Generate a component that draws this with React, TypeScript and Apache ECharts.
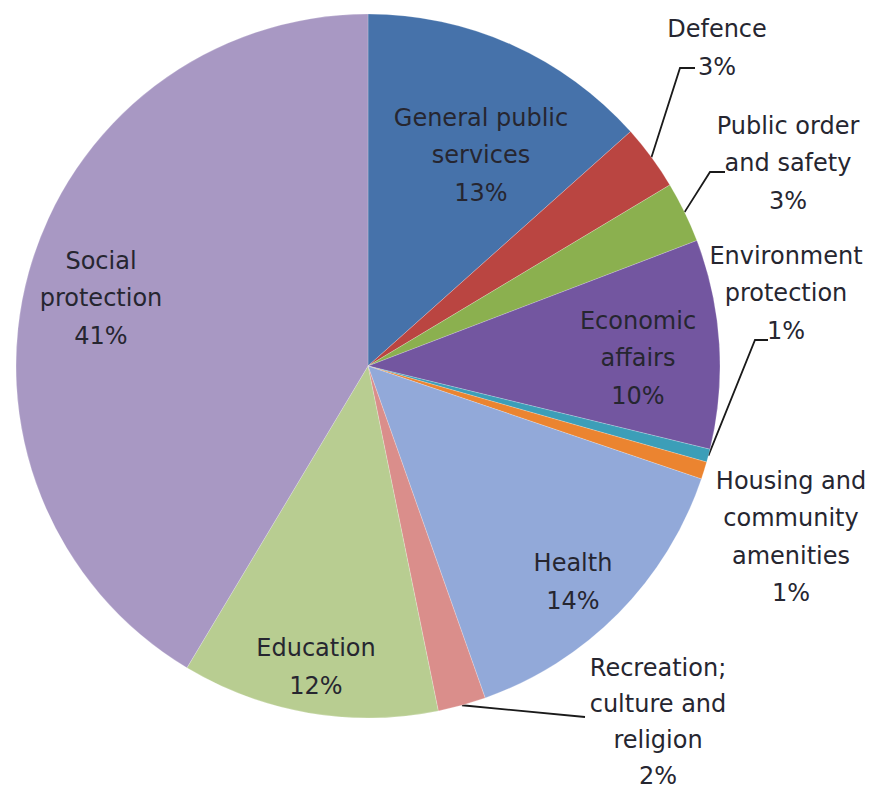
import React, { useEffect, useRef } from "react";
import * as echarts from "echarts";

// ---- data ----
const categories = [
  "General public\nservices",
  "Defence",
  "Public order\nand safety",
  "Economic\naffairs",
  "Environment\nprotection",
  "Housing and\ncommunity\namenities",
  "Health",
  "Recreation;\nculture and\nreligion",
  "Education",
  "Social\nprotection",
];
const shares = [13.4, 3.0, 2.8, 9.6, 0.6, 0.8, 14.4, 2.2, 11.8, 41.4];

// ---- styling / layout ----
const colors = [
  "#4672AA",
  "#BA4541",
  "#8BB04F",
  "#7356A0",
  "#3C9EB8",
  "#EB8430",
  "#92A9D9",
  "#DA8E8B",
  "#B8CD91",
  "#A898C3",
];
const outsideLabel = [false, true, true, false, true, true, false, true, false, false];
const showLeader = [false, true, true, false, true, false, false, true, false, false];
const labelLineHeights = [37.5, 37.5, 37.5, 37.5, 37.5, 37.5, 37.5, 36, 37.5, 37.5];
// centre of each label block
const labelCenters: number[][] = [
  [481, 155],
  [717, 48],
  [788, 163],
  [638, 358],
  [786, 293],
  [791, 537],
  [573, 582],
  [658, 722],
  [316, 667],
  [101, 298],
];
// leader line elbow / end, relative to the label centre
const leaderOffsets: (number[][] | null)[] = [
  null,
  [[-37, 20], [-22, 20]],
  [[-78, 9], [-63, 9]],
  null,
  [[-31, 47], [-18, 47]],
  null,
  null,
  [[-73, -5], [-73, -5]],
  null,
  null,
];

export default function App() {
  const ref = useRef<HTMLDivElement>(null);
  useEffect(() => {
    document.body.style.margin = "0";
    if (!ref.current) return;
    const chart = echarts.init(ref.current, null, { renderer: "svg" });
    const data = categories.map((name, i) => ({
      name,
      value: shares[i],
      itemStyle: { color: colors[i] },
      label: {
        position: outsideLabel[i] ? "outside" : "inside",
        lineHeight: labelLineHeights[i],
      },
      labelLine: { show: showLeader[i] },
    }));
    chart.setOption({
      animation: false,
      backgroundColor: "#ffffff",
      series: [
        {
          type: "pie",
          center: [368, 366],
          radius: 352,
          startAngle: 90,
          clockwise: true,
          avoidLabelOverlap: false,
          percentPrecision: 0,
          data,
          itemStyle: { borderWidth: 0.6, borderColor: "rgba(255,255,255,0.35)" },
          label: {
            show: true,
            formatter: "{b}\n{d}%",
            fontFamily: "DejaVu Sans",
            fontSize: 24,
            lineHeight: 37.5,
            color: "#262630",
            align: "center",
          },
          labelLine: {
            show: true,
            lineStyle: { color: "#1a1a1a", width: 1.8 },
          },
          labelLayout: (params: any) => {
            const i = params.dataIndex;
            const [x, y] = labelCenters[i];
            const res: any = { x, y, align: "center", verticalAlign: "middle" };
            const lead = leaderOffsets[i];
            if (lead && params.labelLinePoints && params.labelLinePoints.length) {
              const p0 = params.labelLinePoints[0];
              res.labelLinePoints = [
                [p0[0], p0[1]],
                ...lead.map(([ox, oy]) => [x + ox, y + oy]),
              ];
            }
            return res;
          },
        },
      ],
    });
    return () => chart.dispose();
  }, []);
  return <div ref={ref} style={{ width: 872, height: 791 }} />;
}
